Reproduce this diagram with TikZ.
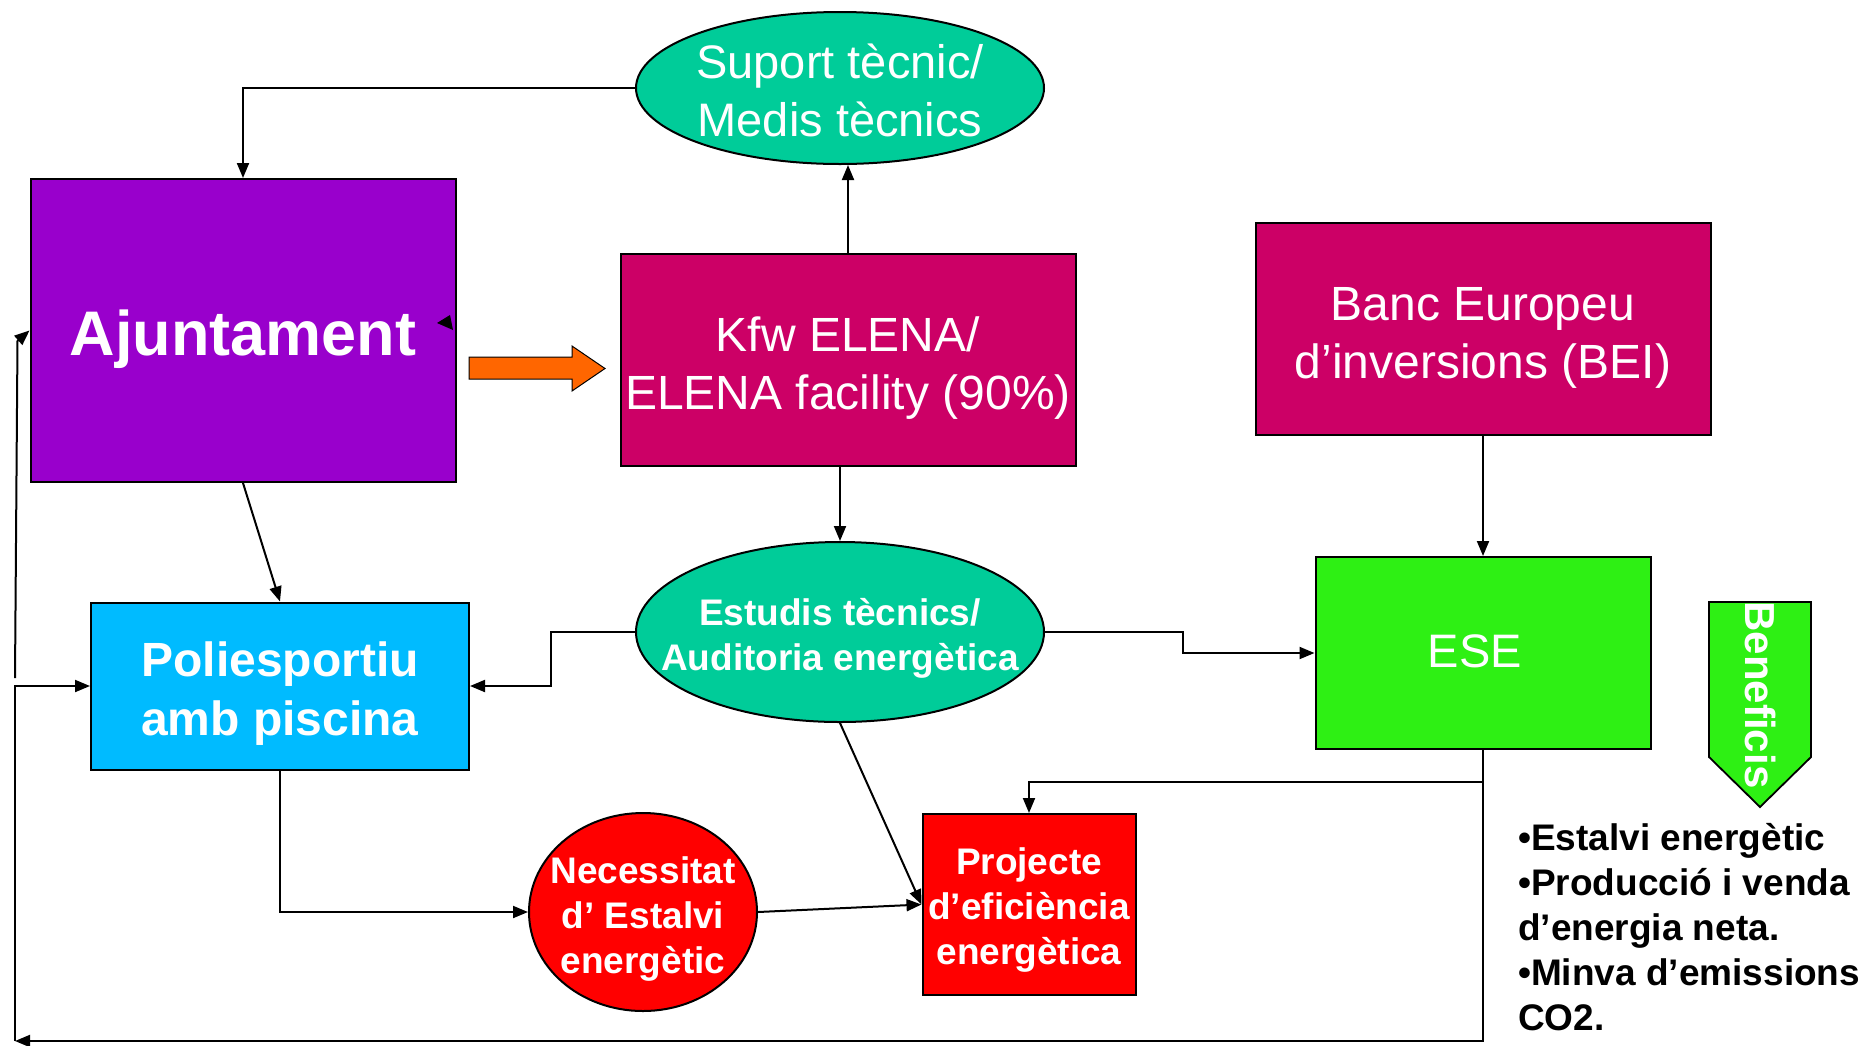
\documentclass[tikz,border=0pt]{standalone}
\usepackage{fontspec}
\setmainfont{Liberation Sans}
\usetikzlibrary{arrows.meta,shapes.geometric}
\definecolor{cpurp}{RGB}{153,0,204}
\definecolor{cmag}{RGB}{204,0,102}
\definecolor{cteal}{RGB}{0,204,153}
\definecolor{cblue}{RGB}{0,187,255}
\definecolor{cgreen}{RGB}{46,240,20}
\definecolor{cred}{RGB}{255,0,0}
\definecolor{corange}{RGB}{255,102,0}
\newcommand{\ctext}[2][8pt]{\makebox[0pt]{\raisebox{-#1}[\height][\depth]{\begin{tabular}{@{}c@{}}#2\end{tabular}}}}
\begin{document}
\begin{tikzpicture}[x=1pt,y=-1pt,
  box/.style={draw=black, line width=2pt, inner sep=0pt, text=white},
  oval/.style={ellipse, draw=black, line width=2pt, inner xsep=0pt, inner ysep=-12pt, text=white},
  arr/.style={line width=2pt, -{Triangle[length=15pt,width=12pt]}}]
\useasboundingbox (0,0) rectangle (1865,1045);

% nodes
\node[box, fill=cpurp, minimum width=425pt, minimum height=303pt,
  font=\fontsize{63}{75}\selectfont\bfseries] (ajunt) at (243,330.5) {\ctext[10pt]{Ajuntament}};
\node[box, fill=cmag, minimum width=455pt, minimum height=212pt,
  font=\fontsize{48}{58}\selectfont] (kfw) at (848,360) {\ctext[9pt]{Kfw ELENA/\\ELENA facility (90\%)}};
\node[oval, fill=cteal, minimum width=408pt, minimum height=152pt,
  font=\fontsize{47}{58}\selectfont] (suport) at (840,88) {\ctext[8pt]{Suport tècnic/\\Medis tècnics}};
\node[box, fill=cmag, minimum width=455pt, minimum height=212pt,
  font=\fontsize{48}{58}\selectfont] (banc) at (1483,329) {\ctext[9pt]{Banc Europeu\\d’inversions (BEI)}};
\node[box, fill=cgreen, minimum width=335pt, minimum height=192pt,
  font=\fontsize{47}{56}\selectfont] (ese) at (1483,653) {\ctext[3pt]{\hspace*{-16pt}ESE}};
\node[oval, fill=cteal, minimum width=408pt, minimum height=180pt,
  font=\fontsize{37}{45}\selectfont\bfseries] (estudis) at (840,632) {\ctext[7pt]{Estudis tècnics/\\Auditoria energètica}};
\node[box, fill=cblue, minimum width=378pt, minimum height=167pt,
  font=\fontsize{48}{59}\selectfont\bfseries] (polies) at (280,686) {\ctext[8pt]{Poliesportiu\\amb piscina}};
\node[oval, fill=cred, minimum width=228pt, minimum height=198pt,
  font=\fontsize{37}{45}\selectfont\bfseries] (necess) at (643,912) {\ctext[7pt]{Necessitat\\d’ Estalvi\\energètic}};
\node[box, fill=cred, minimum width=213pt, minimum height=181pt,
  font=\fontsize{37}{45}\selectfont\bfseries] (proj) at (1029,904.5) {\ctext[6pt]{Projecte\\d’eficiència\\energètica}};

% orange block arrow
\filldraw[fill=corange, draw=black, line width=1pt]
  (469,357) -- (572,357) -- (572,346) -- (605,368.5) -- (572,391) -- (572,379) -- (469,379) -- cycle;

% Beneficis arrow shape
\filldraw[fill=cgreen, draw=black, line width=1.8pt]
  (1709,602) -- (1811,602) -- (1811,757) -- (1760,807) -- (1709,757) -- cycle;
\node[rotate=-90, text=white, inner sep=0pt, font=\fontsize{42}{50}\selectfont\bfseries] (benef) at (1760,695) {Beneficis};

% benefits list
\node[anchor=base west, inner sep=0pt, font=\fontsize{37}{45}\selectfont\bfseries] (benlist) at (1518,850)
  {\begin{tabular}[t]{@{}l@{}}•Estalvi energètic\\•Producció i venda\\d’energia neta.\\•Minva d’emissions\\CO2.\end{tabular}};

% small arrowhead on Ajuntament's right edge
\fill[black] (437,323) -- (450,315) -- (453,330) -- cycle;

% connectors
\coordinate (lb) at (15,1041);
\coordinate (lt) at (15,678);
\coordinate (lk) at (17.5,341);

\draw[arr] (suport.west) -| (ajunt.north);
\draw[arr] (kfw.north) -- (kfw.north |- suport.south);
\draw[arr] (kfw.south -| estudis.north) -- (estudis.north);
\draw[arr] (ajunt.south) -- (polies.north);
\draw[arr] (estudis.west) -- ++(-84,0) |- (polies.east);
\draw[arr] (estudis.east) -- ++(138,0) |- (ese.west);
\draw[arr] (banc.south) -- (ese.north);
\draw[arr] (ese.south) -- ++(0,32) -| (proj.north);
\draw[arr] (ese.south) |- (lb);
\draw[arr] (lb) |- (polies.west);
\draw[arr] (lt) -- (lk) -- (ajunt.west);
\draw[arr] (polies.south) |- (necess.west);
\draw[arr] (necess.east) -- (proj.west);
\draw[arr] (estudis.south) -- (proj.west);
\end{tikzpicture}
\end{document}
